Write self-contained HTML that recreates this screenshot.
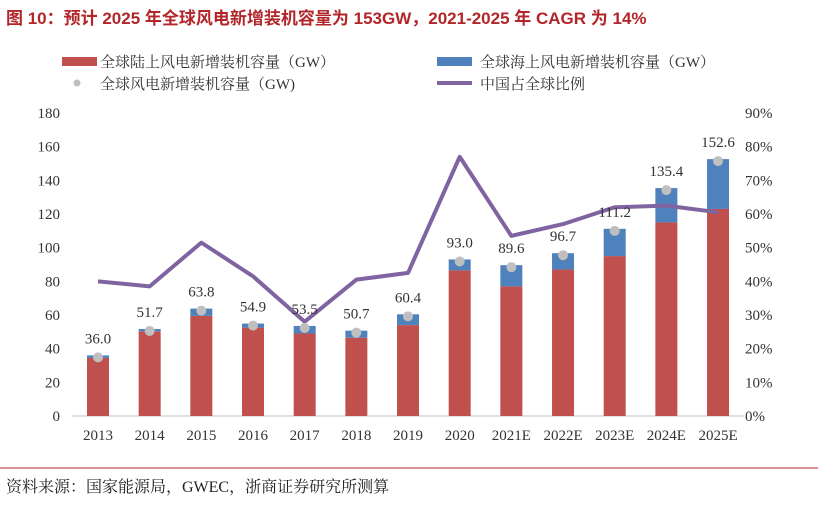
<!DOCTYPE html>
<html><head><meta charset="utf-8"><style>
body{margin:0;background:#fff;}
svg{display:block;font-family:"Liberation Serif","Noto Serif CJK SC",serif;}
</style></head><body>
<svg id="c" width="818" height="505">
<text x="6" y="24" font-family="Liberation Sans, Noto Sans CJK SC, sans-serif" font-weight="bold" font-size="17" fill="#b2262a">图 10：预计 2025 年全球风电新增装机容量为 153GW，2021-2025 年 CAGR 为 14%</text>
<g font-size="15" fill="#333">
<rect x="62" y="57" width="35" height="9" fill="#c0504d"/>
<text x="100" y="67">全球陆上风电新增装机容量（GW）</text>
<rect x="437" y="57" width="35" height="9" fill="#4f81bd"/>
<text x="480" y="67">全球海上风电新增装机容量（GW）</text>
<circle cx="77" cy="83" r="3.5" fill="#bfbfbf"/>
<text x="100" y="89">全球风电新增装机容量（GW)</text>
<line x1="437" y1="83" x2="472" y2="83" stroke="#8064a2" stroke-width="4"/>
<text x="480" y="89">中国占全球比例</text>
</g>
<g id="plot"></g>
<line x1="0" y1="468" x2="818" y2="468" stroke="#b2262a" stroke-width="1"/>
<text x="6" y="492" font-size="16" fill="#222">资料来源：国家能源局，GWEC，浙商证券研究所测算</text>
</svg>
<script>
const categories=["2013","2014","2015","2016","2017","2018","2019","2020","2021E","2022E","2023E","2024E","2025E"];
const onshore=[34.5,50.3,59.5,52.5,49,46.5,54,86.5,77,87,95,115,123];
const totals=[36.0,51.7,63.8,54.9,53.5,50.7,60.4,93.0,89.6,96.7,111.2,135.4,152.6];
const chinaShare=[40,38.5,51.5,41.5,28,40.5,42.5,77,53.5,57,62,62.5,60.5];
const leftTicks=[0,20,40,60,80,100,120,140,160,180];
const rightTicks=[0,10,20,30,40,50,60,70,80,90];
const NS="http://www.w3.org/2000/svg";
const g=document.getElementById('plot');
const x0=98,dx=51.67,yBase=416,yTop=113;
const xs=i=>x0+i*dx;
const yL=v=>yBase-(v/180)*(yBase-yTop);
const yR=v=>yBase-(v/90)*(yBase-yTop);
function mk(t,a){const e=document.createElementNS(NS,t);for(const k in a)e.setAttribute(k,a[k]);g.appendChild(e);return e;}
leftTicks.forEach(v=>{const t=mk('text',{x:60,y:yL(v)+5,'text-anchor':'end','font-size':15,fill:'#333'});t.textContent=v;

});
rightTicks.forEach(v=>{const t=mk('text',{x:745,y:yR(v)+5,'font-size':15,fill:'#333'});t.textContent=v+'%';

});
const ax=mk('line',{x1:72,y1:yBase,x2:744,y2:yBase,stroke:'#bfbfbf'});


categories.forEach((c,i)=>{const x=xs(i),w=22;
const r=mk('rect',{x:x-w/2,y:yL(onshore[i]),width:w,height:yBase-yL(onshore[i]),fill:'#c0504d'});


const b=mk('rect',{x:x-w/2,y:yL(totals[i]),width:w,height:yL(onshore[i])-yL(totals[i]),fill:'#4f81bd'});


const t=mk('text',{x:x,y:440,'text-anchor':'middle','font-size':15,fill:'#333'});t.textContent=c;


});
const pts=chinaShare.map((v,i)=>xs(i)+','+yR(v)).join(' ');
const pl=mk('polyline',{points:pts,fill:'none',stroke:'#8064a2','stroke-width':4,'stroke-linejoin':'round'});


categories.forEach((c,i)=>{const x=xs(i);
const d=mk('circle',{cx:x,cy:yL(totals[i])+2,r:5,fill:'#bfbfbf'});


const t=mk('text',{x:x,y:yL(totals[i])-12,'text-anchor':'middle','font-size':15,fill:'#333'});t.textContent=totals[i].toFixed(1);


});
</script>
</body></html>
